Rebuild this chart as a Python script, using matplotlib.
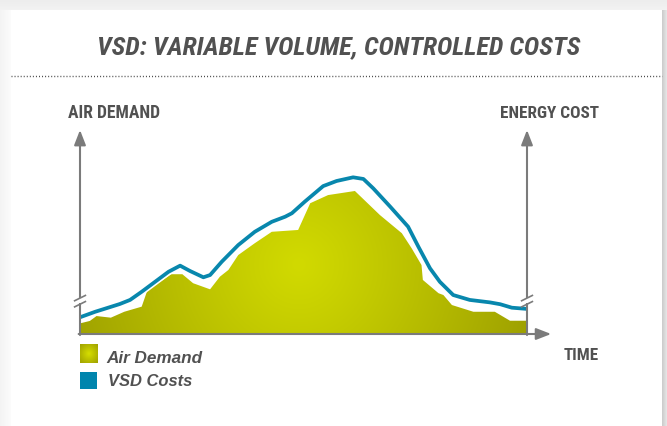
import numpy as np
import matplotlib
matplotlib.use("Agg")
import matplotlib.pyplot as plt
from matplotlib import font_manager
from matplotlib.patches import Rectangle, Polygon
import matplotlib.patheffects as pe

# ---------------- data ----------------
title = "VSD: VARIABLE VOLUME, CONTROLLED COSTS"
y_label_left = "AIR DEMAND"
y_label_right = "ENERGY COST"
x_label = "TIME"
series_names = ["Air Demand", "VSD Costs"]

demand_t = [0.0, 2.2, 3.7, 6.9, 9.9, 13.8, 15.1, 17.9, 20.4, 22.9, 25.3, 29.1, 31.3,
            33.2, 35.4, 39.1, 42.9, 48.8, 51.5, 55.5, 61.5, 67.1, 72.0, 74.2, 76.4,
            76.7, 80.2, 81.3, 83.2, 88.0, 92.8, 96.2, 100.0]
demand_v = [5.2, 6.4, 8.8, 8.0, 10.9, 13.4, 21.6, 25.6, 29.3, 29.3, 24.9, 21.9, 28.1,
            31.4, 38.7, 44.5, 50.1, 51.0, 64.1, 68.1, 70.1, 58.3, 49.4, 42.0, 33.8,
            26.5, 20.0, 19.1, 14.2, 10.9, 10.9, 6.5, 6.5]

cost_t = [0.0, 3.4, 6.3, 8.9, 11.2, 13.8, 16.8, 19.8, 22.4, 24.6, 27.6, 29.1, 31.7,
          35.4, 39.1, 42.9, 45.9, 47.4, 50.3, 54.4, 57.4, 61.1, 63.4, 65.6, 69.4,
          73.4, 75.7, 78.3, 80.5, 83.5, 87.2, 91.7, 94.0, 96.6, 100.0]
cost_v = [8.2, 10.9, 12.9, 14.7, 16.7, 20.7, 25.6, 30.5, 33.5, 30.9, 27.8, 28.9, 35.4,
          43.6, 50.1, 55.0, 57.5, 59.2, 64.9, 72.5, 75.0, 76.8, 76.0, 71.4, 62.4,
          52.6, 42.8, 32.2, 25.6, 19.1, 16.7, 15.5, 14.6, 12.9, 12.3]

# ---------------- fonts ----------------
names = {f.name for f in font_manager.fontManager.ttflist}
narrow = "Liberation Sans"
for cand in ["Roboto Condensed", "Archivo Narrow", "Liberation Sans Narrow", "Asap Condensed",
             "Barlow Semi Condensed"]:
    if cand in names:
        narrow = cand
        break
plt.rcParams["font.family"] = ["Liberation Sans", "DejaVu Sans"]

TXT = "#515151"
AX = "#7b7b7b"
BLUE = "#0887ad"

W, H = 667, 426
fig = plt.figure(figsize=(W / 100, H / 100), dpi=100)
fig.patch.set_facecolor("white")
renderer = fig.canvas.get_renderer()

# decoration axes in pixel coordinates
deco = fig.add_axes([0, 0, 1, 1])
deco.set_xlim(0, W)
deco.set_ylim(H, 0)
deco.axis("off")
# shadows around the card
top = np.linspace(0.93, 0.95, 10)[:, None] * np.ones((1, 2))
deco.imshow(np.dstack([np.tile(np.linspace(0.93, 0.95, 10)[:, None], (1, 2))] * 3),
            extent=(0, W, 10, 0), aspect="auto", interpolation="bilinear", zorder=0)
deco.imshow(np.dstack([np.tile(np.linspace(0.955, 0.985, 11)[None, :], (2, 1))] * 3),
            extent=(0, 11, H, 10), aspect="auto", interpolation="bilinear", zorder=0)
deco.imshow(np.dstack([np.tile(np.linspace(0.80, 0.90, 6)[None, :], (2, 1))] * 3),
            extent=(662, W, H, 10), aspect="auto", interpolation="bilinear", zorder=0)
deco.add_patch(Rectangle((11, 10), 651, 420, facecolor="white", edgecolor="none", zorder=0.5))
deco.plot([11, 662], [76, 76], color="#444444", lw=1.0, ls=(0, (0.7, 1.5)), zorder=1)


def fit_text(x, y, s, width, ha="center", **kw):
    t = deco.text(x, y, s, ha=ha, va="center", **kw)
    fs = t.get_fontsize()
    for _ in range(3):
        w = t.get_window_extent(renderer=renderer).width
        fs = fs * width / w
        t.set_fontsize(fs)
    return t


fit_text(338.5, 47, title, 483, family=[narrow, "DejaVu Sans"], fontsize=14,
         fontweight="bold", fontstyle="italic", color=TXT)
fit_text(114, 113, y_label_left, 92, family=[narrow, "DejaVu Sans"], fontsize=11,
         fontweight="bold", color=TXT)
fit_text(549.5, 113, y_label_right, 99, family=[narrow, "DejaVu Sans"], fontsize=11,
         fontweight="bold", color=TXT)
fit_text(581.5, 356, x_label, 35, family=[narrow, "DejaVu Sans"], fontsize=11,
         fontweight="bold", color=TXT)

# legend
gx, gy = np.meshgrid(np.linspace(-1, 1, 40), np.linspace(-1, 1, 40))
rr = np.clip(np.sqrt(gx ** 2 + gy ** 2) / 1.3, 0, 1)
c_in = np.array([0.84, 0.87, 0.0])
c_out = np.array([0.64, 0.65, 0.0])
img_small = c_in[None, None, :] * (1 - rr[..., None]) + c_out[None, None, :] * rr[..., None]
deco.imshow(img_small, extent=(80, 97.5, 363.5, 345), interpolation="bilinear", zorder=3)
deco.add_patch(Rectangle((80, 372), 17, 17, facecolor="#0085ad", edgecolor="none", zorder=3))
fit_text(106, 358.5, series_names[0], 96, ha="left", fontsize=12, fontweight="bold",
         fontstyle="italic", color=TXT)
fit_text(108, 381.5, series_names[1], 84, ha="left", fontsize=12, fontweight="bold",
         fontstyle="italic", color=TXT)

# chart axes: t 0..100 -> px 80..527, v 0..100 -> px 334..130
ax = fig.add_axes([80 / W, (H - 334) / H, 447 / W, 204 / H])
ax.set_xlim(0, 100)
ax.set_ylim(0, 100)
ax.axis("off")
ax.patch.set_alpha(0)

# fill with radial gradient
poly_xy = [(demand_t[0], 0)] + list(zip(demand_t, demand_v)) + [(demand_t[-1], 0)]
poly = Polygon(poly_xy, closed=True, facecolor="none", edgecolor="none", transform=ax.transData)
ax.add_patch(poly)
nx, ny = 400, 200
xx, yy = np.meshgrid(np.linspace(0, 100, nx), np.linspace(0, 100, ny))
dx = (xx - 49.0) * 4.47
dy = (yy - 34.0) * 2.04
r = np.clip(np.sqrt(dx ** 2 + dy ** 2) / 240.0, 0, 1) ** 1.1
c1 = np.array([0.82, 0.855, 0.0])
c2 = np.array([0.62, 0.63, 0.0])
img = c1[None, None, :] * (1 - r[..., None]) + c2[None, None, :] * r[..., None]
im = ax.imshow(img, extent=(0, 100, 0, 100), origin="lower", aspect="auto",
               interpolation="bilinear", zorder=2)
im.set_clip_path(poly)

# cost line
ax.plot(cost_t, cost_v, color=BLUE, lw=2.7, solid_joinstyle="round", solid_capstyle="butt",
        zorder=4, path_effects=[pe.Stroke(linewidth=5, foreground="white"), pe.Normal()])

# axes lines with arrows
arrow = dict(arrowstyle="-|>,head_length=0.9,head_width=0.35", color=AX, lw=1.5,
             shrinkA=0, shrinkB=0, mutation_scale=10)
ax.annotate("", xy=(0, 100), xytext=(0, -0.5), arrowprops=arrow, zorder=5, annotation_clip=False)
ax.annotate("", xy=(100, 100), xytext=(100, -0.5), arrowprops=arrow, zorder=5, annotation_clip=False)
ax.annotate("", xy=(105.4, 0), xytext=(-0.3, 0), arrowprops=arrow, zorder=5, annotation_clip=False)

# axis breaks
for xb in (0, 100):
    ax.add_patch(Rectangle((xb - 0.6, 15.0), 1.2, 2.6, facecolor="white", edgecolor="none",
                           zorder=6, clip_on=False))
    for yb in (14.6, 17.6):
        ax.plot([xb - 1.2, xb + 1.2], [yb - 1.3, yb + 1.3], color=AX, lw=1.2, zorder=7,
                clip_on=False)

fig.savefig("out.png", dpi=100, facecolor=fig.get_facecolor())
